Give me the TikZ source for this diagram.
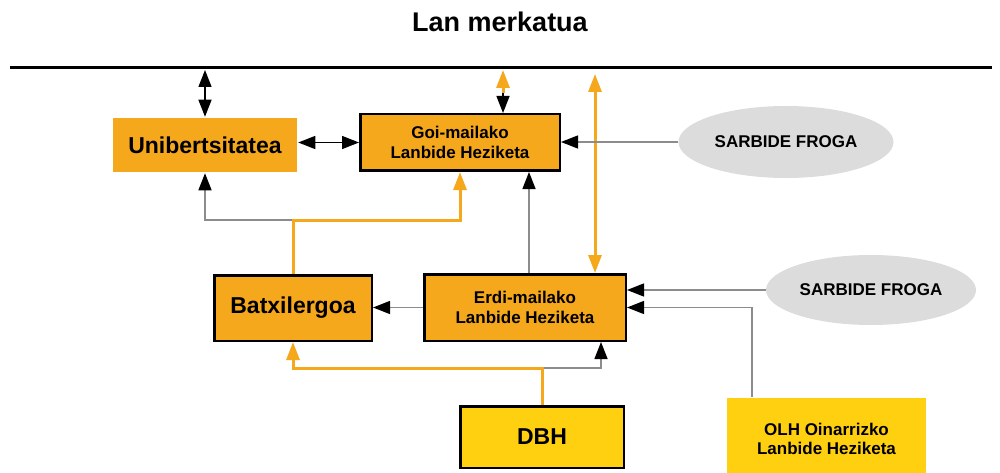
\documentclass[tikz,border=0pt]{standalone}
\usepackage{fontspec}
\setmainfont{Liberation Sans}
\usetikzlibrary{arrows.meta,positioning,shapes.geometric}
\definecolor{laranja}{HTML}{F5A81C}
\definecolor{horia}{HTML}{FFD00F}
\definecolor{grisa}{HTML}{8C8C8C}
\definecolor{lainoa}{HTML}{DCDCDC}

\begin{document}
\begin{tikzpicture}[x=1pt,y=-1pt,
  kutxa/.style={draw=black, line width=2.5pt, fill=laranja, align=center, inner sep=0pt,
    font=\fontsize{17}{19.5}\selectfont\bfseries},
  handia/.style={font=\fontsize{23}{26}\selectfont\bfseries},
  froga/.style={ellipse, fill=lainoa, inner sep=0pt, minimum width=215, minimum height=72,
    font=\fontsize{17}{20}\selectfont\bfseries},
  beltza/.style={black, line width=1.4pt, >={Triangle[length=17pt,width=13pt]}},
  gezi/.style={grisa, line width=1.4pt, >={Triangle[length=17pt,width=13pt,color=black]}},
  urre/.style={laranja, line width=3pt, >={Triangle[length=18pt,width=13pt]}}]
\useasboundingbox (0,0) rectangle (1000,473);

\node [font=\fontsize{27}{30}\selectfont\bfseries] (izenburua) at (500,22) {Lan merkatua};
\draw [line width=3.5pt] (10,67.5) -- (992,67.5);
\coordinate (marra) at (0,70);

% goiko maila
\node [kutxa, draw=none, handia, minimum width=184, minimum height=54] (uni) at (205,145) {Unibertsitatea};
\node [kutxa, minimum width=199.5, minimum height=56.5] (goi) at (460,142.5) {Goi-mailako\\Lanbide Heziketa};
\node [froga] (sarb1) at (786,142) {SARBIDE FROGA};

% erdiko maila
\node [kutxa, handia, minimum width=157.5, minimum height=65.5] (batx) at (293,308) {Batxilergoa};
\node [kutxa, minimum width=201.5, minimum height=66.5] (erdi) at (525,307.5) {Erdi-mailako\\Lanbide Heziketa};
\node [froga, minimum width=210, minimum height=70] (sarb2) at (871,290) {SARBIDE FROGA};

% beheko maila
\node [kutxa, fill=horia, handia, minimum width=163.5, minimum height=61.5] (dbh) at (542,437) {DBH};
\node [kutxa, draw=none, fill=horia, minimum width=199, minimum height=82] (olh) at (826.5,439) {OLH Oinarrizko\\Lanbide Heziketa};

% lan merkatuarekiko loturak
\draw [beltza, <->] (uni.north) -- (uni.north |- marra);
\coordinate (goierdi) at (503,93);
\draw [urre, ->] (goierdi) -- (goierdi |- marra);
\draw [beltza, ->] (goierdi) -- (goierdi |- goi.north);
\coordinate (urregoi) at (595,74);
\draw [urre, <->] (urregoi) -- (urregoi |- erdi.north);

% goiko loturak
\draw [beltza, <->] (uni.east |- goi.west) -- (goi.west);
\draw [gezi, ->] (sarb1.west) -- (sarb1.west -| goi.east);
\draw [gezi, ->] ([xshift=4pt]erdi.north) -- ([xshift=4pt]erdi.north |- goi.south);

% batxilergotik gora
\coordinate (bbanatu) at (293,220);
\draw [gezi, ->] (bbanatu) -| (uni.south);
\draw [urre, ->] (batx.north) -- (bbanatu) -| (goi.south);

% erdi-mailakoa
\draw [gezi, ->] (erdi.west) -- (erdi.west -| batx.east);
\draw [gezi, ->] (sarb2.west) -- (sarb2.west -| erdi.east);
\draw [gezi, ->] ([xshift=-74.5pt]olh.north) |- (erdi.east);

% DBHtik gora
\coordinate (dbanatu) at (542,368);
\draw [gezi, ->] (dbanatu) -| ([xshift=76pt]erdi.south);
\draw [urre, ->] (dbh.north) -- (dbanatu) -| (batx.south);
\end{tikzpicture}
\end{document}
